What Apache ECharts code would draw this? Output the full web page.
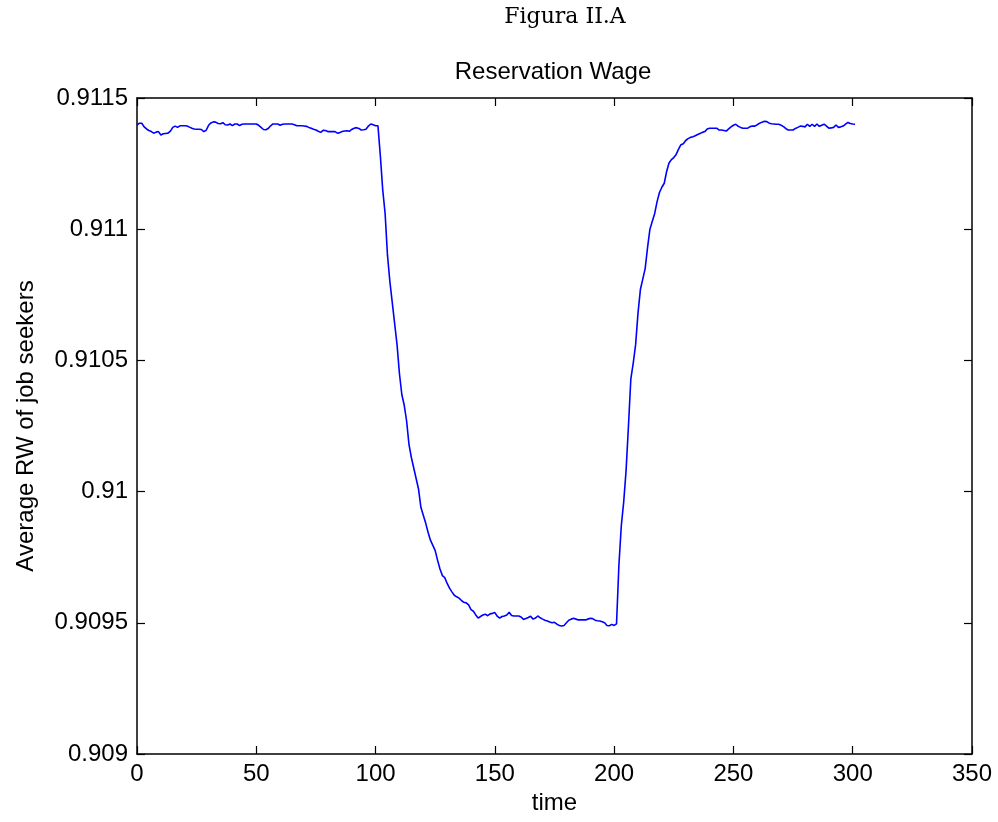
<!DOCTYPE html>
<html>
<head>
<meta charset="utf-8">
<script src="https://cdn.jsdelivr.net/npm/echarts@6/dist/echarts.min.js"></script>
<style>html,body{margin:0;padding:0;background:#fff;}#c{width:998px;height:822px;}</style>
</head>
<body>
<div id="c"></div>
<script>
const supTitle = "Figura II.A";
const chartTitle = "Reservation Wage";
const xName = "time";
const yName = "Average RW of job seekers";
const xTicks = [0, 50, 100, 150, 200, 250, 300, 350];
const yTicks = [0.909, 0.9095, 0.91, 0.9105, 0.911, 0.9115];
const startTime = 0;
const rw = [
0.911397,0.911404,0.911404,0.911390,0.911382,0.911376,0.911372,0.911366,0.911370,0.911372,
0.911359,0.911364,0.911365,0.911366,0.911374,0.911388,0.911393,0.911388,0.911394,0.911394,
0.911394,0.911393,0.911389,0.911385,0.911382,0.911381,0.911381,0.911380,0.911372,0.911377,
0.911396,0.911405,0.911409,0.911408,0.911403,0.911402,0.911406,0.911398,0.911397,0.911401,
0.911395,0.911401,0.911401,0.911395,0.911400,0.911401,0.911401,0.911401,0.911401,0.911401,
0.911401,0.911396,0.911388,0.911380,0.911379,0.911384,0.911394,0.911401,0.911401,0.911401,
0.911396,0.911400,0.911401,0.911401,0.911401,0.911401,0.911398,0.911394,0.911394,0.911394,
0.911393,0.911392,0.911388,0.911385,0.911381,0.911378,0.911373,0.911369,0.911377,0.911376,
0.911372,0.911372,0.911372,0.911372,0.911366,0.911368,0.911372,0.911374,0.911375,0.911373,
0.911380,0.911385,0.911387,0.911384,0.911378,0.911379,0.911381,0.911393,0.911401,0.911398,
0.911394,0.911394,0.911280,0.911150,0.911060,0.910900,0.910800,0.910720,0.910640,0.910560,
0.910450,0.910370,0.910330,0.910270,0.910180,0.910130,0.910090,0.910050,0.910010,0.909940,
0.909910,0.909880,0.909845,0.909815,0.909795,0.909775,0.909738,0.909705,0.909680,0.909672,
0.909650,0.909632,0.909618,0.909605,0.909599,0.909594,0.909585,0.909578,0.909576,0.909568,
0.909550,0.909544,0.909530,0.909518,0.909524,0.909530,0.909533,0.909527,0.909534,0.909536,
0.909539,0.909525,0.909518,0.909524,0.909526,0.909530,0.909540,0.909528,0.909526,0.909526,
0.909526,0.909522,0.909513,0.909516,0.909520,0.909525,0.909514,0.909518,0.909526,0.909519,
0.909514,0.909510,0.909507,0.909503,0.909500,0.909502,0.909495,0.909490,0.909488,0.909490,
0.909500,0.909510,0.909514,0.909517,0.909514,0.909511,0.909511,0.909511,0.909511,0.909514,
0.909517,0.909516,0.909510,0.909508,0.909507,0.909504,0.909500,0.909490,0.909489,0.909494,
0.909490,0.909496,0.909720,0.909870,0.909960,0.910080,0.910250,0.910430,0.910490,0.910560,
0.910680,0.910770,0.910810,0.910850,0.910930,0.911000,0.911030,0.911060,0.911105,0.911140,
0.911160,0.911175,0.911220,0.911252,0.911265,0.911273,0.911285,0.911305,0.911322,0.911326,
0.911338,0.911345,0.911350,0.911352,0.911356,0.911361,0.911365,0.911369,0.911372,0.911382,
0.911385,0.911385,0.911385,0.911385,0.911378,0.911378,0.911376,0.911374,0.911382,0.911390,
0.911396,0.911400,0.911392,0.911388,0.911385,0.911385,0.911385,0.911391,0.911393,0.911393,
0.911398,0.911404,0.911408,0.911411,0.911410,0.911404,0.911402,0.911401,0.911400,0.911400,
0.911396,0.911391,0.911383,0.911378,0.911378,0.911378,0.911384,0.911388,0.911393,0.911392,
0.911390,0.911400,0.911392,0.911400,0.911392,0.911401,0.911392,0.911396,0.911400,0.911393,
0.911385,0.911386,0.911388,0.911397,0.911388,0.911390,0.911393,0.911400,0.911407,0.911403,
0.911401,0.911400
];

const seriesData = rw.map((v, i) => [startTime + i, v]);
const font = "'Liberation Sans', Arial, Helvetica, sans-serif";
const xMin = xTicks[0], xMax = xTicks[xTicks.length - 1];
const yMin = yTicks[0], yMax = yTicks[yTicks.length - 1];
const xInt = xTicks[1] - xTicks[0];
const yInt = +(yTicks[1] - yTicks[0]).toFixed(6);
const fmtY = v => String(+(+v).toFixed(4));

const axisLine = { show: true, onZero: false, lineStyle: { color: '#000', width: 1.5 } };
const tickIn = { show: true, inside: true, length: 8, lineStyle: { color: '#000', width: 1.2 } };

const chart = echarts.init(document.getElementById('c'), null, { renderer: 'canvas' });
chart.setOption({
  animation: false,
  backgroundColor: '#fff',
  title: [
    { text: supTitle, left: 560, top: 1, textAlign: 'center',
      textStyle: { fontFamily: "'DejaVu Serif', 'Liberation Serif', serif", fontWeight: 'normal', fontSize: 22, color: '#000' } },
    { text: chartTitle, left: 548, top: 55, textAlign: 'center',
      textStyle: { fontFamily: font, fontWeight: 'normal', fontSize: 24, color: '#000' } }
  ],
  grid: { left: 137, right: 26, top: 98, bottom: 68, containLabel: false },
  xAxis: [
    { type: 'value', position: 'bottom', min: xMin, max: xMax, interval: xInt,
      name: xName, nameLocation: 'middle', nameGap: 37,
      nameTextStyle: { fontFamily: font, fontSize: 24, color: '#000' },
      axisLine: axisLine, axisTick: tickIn,
      axisLabel: { fontFamily: font, fontSize: 24, color: '#000', margin: 8 },
      splitLine: { show: false } },
    { type: 'value', position: 'top', min: xMin, max: xMax, interval: xInt,
      axisLine: axisLine, axisTick: tickIn, axisLabel: { show: false }, splitLine: { show: false } }
  ],
  yAxis: [
    { type: 'value', position: 'left', min: yMin, max: yMax, interval: yInt,
      name: yName, nameLocation: 'middle', nameGap: 99, nameRotate: 90,
      nameTextStyle: { fontFamily: font, fontSize: 24, color: '#000' },
      axisLine: axisLine, axisTick: tickIn,
      axisLabel: { fontFamily: font, fontSize: 24, color: '#000', margin: 9, formatter: fmtY },
      splitLine: { show: false } },
    { type: 'value', position: 'right', min: yMin, max: yMax, interval: yInt,
      axisLine: axisLine, axisTick: tickIn, axisLabel: { show: false }, splitLine: { show: false } }
  ],
  series: [{
    type: 'line', data: seriesData, xAxisIndex: 0, yAxisIndex: 0,
    showSymbol: false, symbol: 'none',
    lineStyle: { color: '#0000ff', width: 1.6 },
    itemStyle: { color: '#0000ff' }
  }]
});
</script>
</body>
</html>
